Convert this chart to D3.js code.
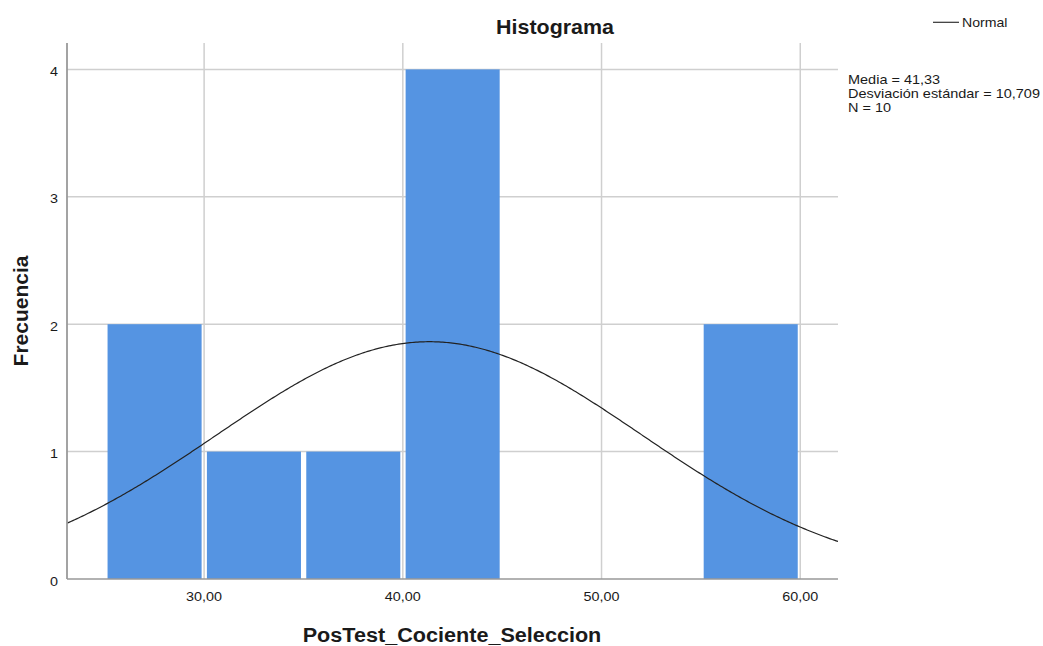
<!DOCTYPE html>
<html><head><meta charset="utf-8">
<script src="https://cdn.jsdelivr.net/npm/d3@7/dist/d3.min.js"></script>
<style>body{margin:0;background:#fff}svg{display:block}text{font-family:"Liberation Sans",Arial,sans-serif}</style>
</head><body><svg id="c" width="1043" height="646"></svg>
<script>
const binStarts = [25, 30, 35, 40, 45, 50, 55];
const binCounts = [2, 1, 1, 4, 0, 0, 2];
const binWidth = 5;
const xTicks = [30, 40, 50, 60];
const yTicks = [0, 1, 2, 3, 4];
const mean = 41.33, sd = 10.709, n = 10;
const statsLines = ["Media = 41,33", "Desviación estándar = 10,709", "N = 10"];

const svg = d3.select("#c");
const L = 67, R = 838, T = 43, B = 579;
const x = d3.scaleLinear().domain([23.1, 61.9]).range([L, R]);
const y = d3.scaleLinear().domain([0, 4]).range([B, 69.4]);
const SX = 1.15;

function label(px, py, str, size, anchor, sx, weight) {
  return svg.append("text")
    .attr("transform", `translate(${px},${py}) scale(${sx},1)`)
    .attr("text-anchor", anchor).attr("font-size", size)
    .attr("font-weight", weight || "normal").attr("fill", "#1a1a1a").text(str);
}

// gridlines
const g = svg.append("g");
g.selectAll(".gx").data(xTicks).join("line")
  .attr("x1", d => x(d)).attr("x2", d => x(d)).attr("y1", T).attr("y2", B)
  .attr("stroke", "#cfcfcf").attr("stroke-width", 1.5);
g.selectAll(".gy").data(yTicks.slice(1)).join("line")
  .attr("x1", L).attr("x2", R).attr("y1", d => y(d)).attr("y2", d => y(d))
  .attr("stroke", "#cfcfcf").attr("stroke-width", 1.5);

// bars
const bars = binStarts.map((s, i) => ({s, c: binCounts[i]})).filter(d => d.c > 0);
svg.selectAll(".bar").data(bars).join("rect")
  .attr("x", d => x(d.s) + 2.8)
  .attr("width", d => x(d.s + binWidth) - x(d.s) - 5.3)
  .attr("y", d => y(d.c))
  .attr("height", d => y(0) - y(d.c))
  .attr("fill", "#5594e2");

// normal curve
svg.append("clipPath").attr("id", "pc").append("rect")
  .attr("x", L).attr("y", T).attr("width", R - L).attr("height", B - T);
const pts = d3.range(0, 401).map(i => 23.1 + (61.9 - 23.1) * i / 400);
const f = v => n * binWidth / (sd * Math.sqrt(2 * Math.PI)) * Math.exp(-0.5 * ((v - mean) / sd) ** 2);
svg.append("path").datum(pts)
  .attr("clip-path", "url(#pc)")
  .attr("d", d3.line().x(d => x(d)).y(d => y(f(d))))
  .attr("fill", "none").attr("stroke", "#222").attr("stroke-width", 1.2);

// axes
svg.append("line").attr("x1", L).attr("x2", L).attr("y1", T).attr("y2", B)
  .attr("stroke", "#999").attr("stroke-width", 1.8);
svg.append("line").attr("x1", L).attr("x2", R).attr("y1", B).attr("y2", B)
  .attr("stroke", "#999").attr("stroke-width", 1.5);

yTicks.forEach(d => label(58, y(d) + 6.5, d, 12.5, "end", SX));
xTicks.forEach(d => label(x(d), 601, d.toFixed(2).replace(".", ","), 12.5, "middle", SX));

// titles
label(555, 33.5, "Histograma", 21, "middle", 1.02, "bold");
label(452, 642, "PosTest_Cociente_Seleccion", 21, "middle", 1.03, "bold");
svg.append("text").attr("transform", "translate(27.5,311) rotate(-90)").attr("text-anchor", "middle")
  .attr("font-size", 21).attr("font-weight", "bold").attr("fill", "#1a1a1a").text("Frecuencia");

// legend
svg.append("line").attr("x1", 933).attr("x2", 959).attr("y1", 22.3).attr("y2", 22.3)
  .attr("stroke", "#333").attr("stroke-width", 1.2);
label(962, 27.3, "Normal", 12.5, "start", 1.13);

statsLines.forEach((s, i) => label(848, 84 + i * 13.8, s, 12.5, "start", 1.16));
</script></body></html>
